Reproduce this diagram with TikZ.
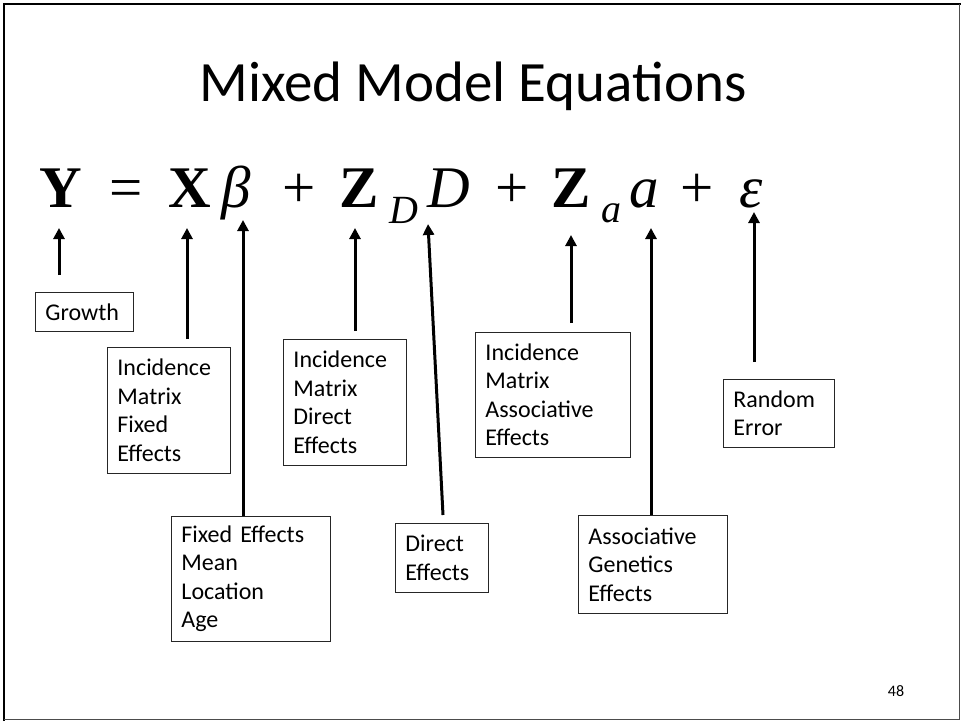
\documentclass[tikz,border=0pt]{standalone}
\usepackage{fontspec}
\setmainfont{Carlito}
\newfontfamily\eqfont{Liberation Serif}
\usetikzlibrary{arrows.meta}
\tikzset{
  lbl/.style={draw=black!85, line width=0.9pt, anchor=north west, align=left,
    inner xsep=10pt, inner ysep=0pt, font=\fontsize{24}{28.5}\selectfont},
  eq/.style={anchor=base, inner sep=0pt, font=\eqfont\fontsize{59}{60}\selectfont},
  eqsub/.style={anchor=base, inner sep=0pt, font=\eqfont\fontsize{40}{42}\selectfont},
  arr/.style={line width=3pt, -{Triangle[width=11pt,length=11pt]}}
}
\begin{document}
\begin{tikzpicture}[x=1pt,y=-1pt]
\useasboundingbox (0,0) rectangle (961,721);
% frame
\draw[line width=2.5pt] (4,721) -- (4,4) -- (961,4);
\draw[line width=1pt, black!70] (959.5,4) -- (959.5,719.5) -- (4,719.5);
% title
\node[anchor=base, inner sep=0pt, font=\fontsize{57}{60}\selectfont] (title) at (473,101) {Mixed Model Equations};
% equation
\node[eq] (Y) at (61,207) {\bfseries Y};
\node[eq] (eqs) at (126,207) {=};
\node[eq] (X) at (190,207) {\bfseries X};
\node[eq] (beta) at (236,207) {\itshape β};
\node[eq] (p1) at (299,207) {+};
\node[eq] (ZD) at (359,207) {\bfseries Z};
\node[eqsub] (sD) at (404,223) {\itshape D};
\node[eq] (D) at (449,207) {\itshape D};
\node[eq] (p2) at (512,207) {+};
\node[eq] (Za) at (571,207) {\bfseries Z};
\node[eqsub] (sa) at (611,222) {\itshape a};
\node[eq] (a) at (644,207) {\itshape a};
\node[eq] (p3) at (697,207) {+};
\node[eq] (eps) at (751,207) {\itshape ε};
% boxes
\node[lbl, minimum width=98pt, minimum height=39pt, text width=78pt] (growth) at (35,292) {Growth};
\node[lbl, minimum width=123pt, minimum height=126pt, text width=103pt] (incX) at (107,347) {Incidence\\Matrix\\Fixed\\Effects};
\node[lbl, minimum width=159pt, minimum height=125pt, text width=139pt] (fe) at (171,516) {Fixed Effects\\Mean\\Location\\Age};
\node[lbl, minimum width=123pt, minimum height=126pt, text width=103pt] (incD) at (283,339) {Incidence\\Matrix\\Direct\\Effects};
\node[lbl, minimum width=93pt, minimum height=69pt, text width=73pt] (de) at (395,523) {Direct\\Effects};
\node[lbl, minimum width=155pt, minimum height=125pt, text width=135pt] (incA) at (475,332) {Incidence\\Matrix\\Associative\\Effects};
\node[lbl, minimum width=149pt, minimum height=98pt, text width=129pt] (age) at (578,515) {Associative\\Genetics\\Effects};
\node[lbl, minimum width=111pt, minimum height=68pt, text width=91pt] (re) at (723,379) {Random\\Error};
% page number
\node[anchor=base, inner sep=0pt, font=\fontsize{16}{18}\selectfont] (num) at (896,696) {48};
% arrow ends
\coordinate (tY) at (59,228);   \coordinate (bY) at (59,275);
\coordinate (tX) at (187,228);  \coordinate (bX) at (187,339);
\coordinate (tB) at (243,220);
\coordinate (tZD) at (355,228); \coordinate (bZD) at (355,331);
\coordinate (tD) at (428,224);  \coordinate (bD) at (443,515);
\coordinate (tZa) at (571,235); \coordinate (bZa) at (571,323);
\coordinate (tA) at (651,228);
\coordinate (tE) at (754,212);  \coordinate (bE) at (754,362);
% arrows
\draw[arr] (bY) -- (tY);
\draw[arr] (bX) -- (tX);
\draw[arr] (fe.north -| tB) -- (tB);
\draw[arr] (bZD) -- (tZD);
\draw[arr] (bD) -- (tD);
\draw[arr] (bZa) -- (tZa);
\draw[arr] (age.north -| tA) -- (tA);
\draw[arr] (bE) -- (tE);
\end{tikzpicture}
\end{document}
